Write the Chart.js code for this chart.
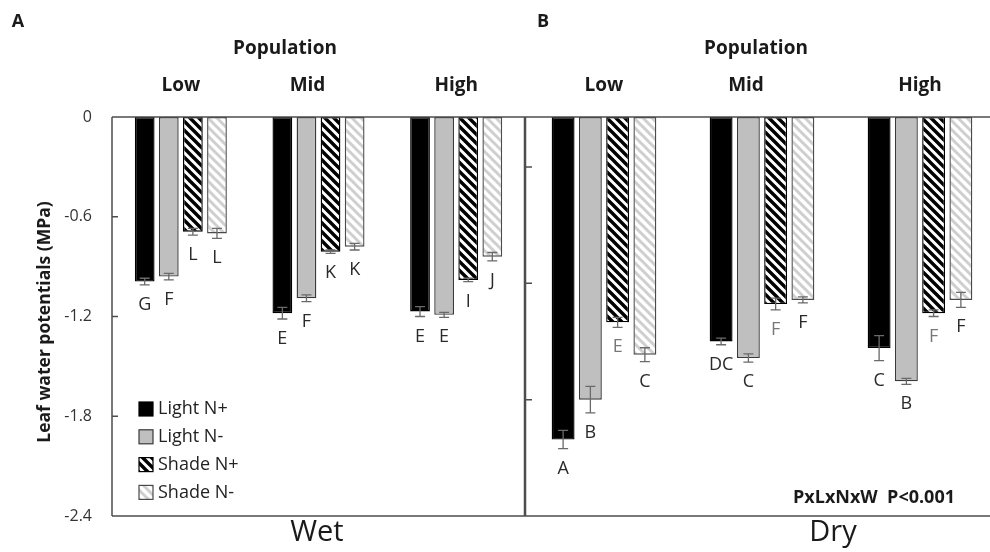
<!DOCTYPE html>
<html><head><meta charset="utf-8">
<script src="https://cdn.jsdelivr.net/npm/chart.js@4.4.0/dist/chart.umd.min.js"></script>
<style>
html,body{margin:0;padding:0;background:#fff;overflow:hidden;width:990px;height:552px;}
#wrap{position:relative;width:990px;height:552px;overflow:hidden;background:#fff;}
canvas{position:absolute;top:0;}
#cw{left:0}
#cd{left:525px}
</style></head><body>
<div id="wrap"><canvas id="cw" width="525" height="552"></canvas><canvas id="cd" width="474" height="552"></canvas></div>
<script>
// ---- data ----
const populations = ['Low', 'Mid', 'High'];
const seriesNames = ['Light N+', 'Light N-', 'Shade N+', 'Shade N-'];
const yTicksWet = [0, -0.6, -1.2, -1.8, -2.4];
const yTicksDry = [-0.3, -1.0, -1.7];

const wetLightNplus = [-0.99, -1.18, -1.17];
const wetLightNminus = [-0.96, -1.09, -1.19];
const wetShadeNplus = [-0.69, -0.81, -0.98];
const wetShadeNminus = [-0.70, -0.78, -0.84];
const wetErrLightNplus = [0.02, 0.035, 0.03];
const wetErrLightNminus = [0.02, 0.02, 0.015];
const wetErrShadeNplus = [0.02, 0.01, 0.01];
const wetErrShadeNminus = [0.03, 0.02, 0.025];
const wetLetters = [['G','E','E'], ['F','F','E'], ['L','K','I'], ['L','K','J']];

const dryLightNplus = [-1.94, -1.35, -1.39];
const dryLightNminus = [-1.70, -1.45, -1.59];
const dryShadeNplus = [-1.235, -1.125, -1.18];
const dryShadeNminus = [-1.43, -1.10, -1.10];
const dryErrLightNplus = [0.055, 0.02, 0.075];
const dryErrLightNminus = [0.08, 0.025, 0.018];
const dryErrShadeNplus = [0.03, 0.035, 0.02];
const dryErrShadeNminus = [0.042, 0.018, 0.045];
const dryLetters = [['A','DC','C'], ['B','C','B'], ['E','F','F'], ['C','F','F']];

// ---- styles ----
const FONT = "'Open Sans', 'DejaVu Sans', sans-serif";
function stripes(fg, bg, size, w) {
  const c = document.createElement('canvas');
  c.width = size; c.height = size;
  const x = c.getContext('2d');
  x.fillStyle = bg; x.fillRect(0, 0, size, size);
  x.strokeStyle = fg; x.lineWidth = w; x.lineCap = 'square';
  x.beginPath();
  x.moveTo(-1, -1); x.lineTo(size + 1, size + 1);
  x.moveTo(-1, size - 1); x.lineTo(1, size + 1);
  x.moveTo(size - 1, -1); x.lineTo(size + 1, 1);
  x.stroke();
  return x.createPattern(c, 'repeat');
}
const fills = ['#000000', '#bfbfbf', stripes('#000', '#fff', 9, 3.4), stripes('#cfcfcf', '#fff', 9, 3.0)];
const borders = ['#000000', '#3a3a3a', '#000000', '#4a4a4a'];

function makeDatasets(series) {
  return series.map((d, i) => ({
    label: seriesNames[i], data: d,
    backgroundColor: fills[i], borderColor: borders[i], borderWidth: 1.4,
    borderSkipped: false
  }));
}

function errLetterPlugin(errs, letters, letterColors) {
  return {
    id: 'errLetters',
    afterDatasetsDraw(chart) {
      const ctx = chart.ctx, y = chart.scales.y;
      ctx.save();
      chart.data.datasets.forEach((ds, di) => {
        const meta = chart.getDatasetMeta(di);
        meta.data.forEach((bar, i) => {
          const v = ds.data[i], e = errs[di][i];
          const yt = y.getPixelForValue(v + e), yb = y.getPixelForValue(v - e);
          ctx.strokeStyle = '#6a6a6a'; ctx.lineWidth = 1.3;
          ctx.beginPath();
          ctx.moveTo(bar.x, yt); ctx.lineTo(bar.x, yb);
          ctx.moveTo(bar.x - 5, yt); ctx.lineTo(bar.x + 5, yt);
          ctx.moveTo(bar.x - 5, yb); ctx.lineTo(bar.x + 5, yb);
          ctx.stroke();
          ctx.fillStyle = letterColors[di];
          ctx.font = '18px ' + FONT;
          ctx.textAlign = 'center'; ctx.textBaseline = 'middle';
          ctx.fillText(letters[di][i], bar.x, yb + 20);
        });
      });
      ctx.restore();
    }
  };
}

function framePlugin(isLeft) {
  return {
    id: 'frame',
    afterDraw(chart) {
      const ctx = chart.ctx, a = chart.chartArea, y = chart.scales.y, x = chart.scales.x;
      ctx.save();
      ctx.strokeStyle = '#4d4d4d'; ctx.lineWidth = 1.5;
      ctx.beginPath();
      if (isLeft) {
        ctx.moveTo(a.left, a.top); ctx.lineTo(a.right, a.top);
        ctx.moveTo(a.left, a.bottom); ctx.lineTo(a.right, a.bottom);
        ctx.moveTo(a.left, a.top); ctx.lineTo(a.left, a.bottom);
        ctx.moveTo(a.right - 0.5, a.top); ctx.lineTo(a.right - 0.5, a.bottom);
        yTicksWet.forEach(t => { const p = y.getPixelForValue(t); ctx.moveTo(a.left, p); ctx.lineTo(a.left + 6, p); });
      } else {
        ctx.moveTo(0, a.top); ctx.lineTo(a.right, a.top);
        ctx.moveTo(0, a.bottom); ctx.lineTo(a.right, a.bottom);
        ctx.moveTo(0.5, a.top); ctx.lineTo(0.5, a.bottom);
        yTicksDry.forEach(t => { const p = y.getPixelForValue(t); ctx.moveTo(0, p); ctx.lineTo(7, p); });
      }
      ctx.stroke();

      ctx.fillStyle = '#1a1a1a';
      ctx.textAlign = 'center'; ctx.textBaseline = 'middle';
      ctx.font = 'bold 19px ' + FONT;
      const midShift = isLeft ? -11 : -16;
      populations.forEach((p, i) => {
        ctx.fillText(p, x.getPixelForValue(i) + (i === 1 ? midShift : 0), 86);
      });
      ctx.fillText('Population', isLeft ? 285 : 231, 49);
      ctx.font = 'bold 18px ' + FONT;
      ctx.fillText(isLeft ? 'A' : 'B', 18, 22);
      ctx.font = '29px ' + FONT;
      ctx.fillText(isLeft ? 'Wet' : 'Dry', isLeft ? 317 : 308, 533);
      if (isLeft) {
        ctx.save();
        ctx.translate(45, 322); ctx.rotate(-Math.PI / 2);
        ctx.font = 'bold 17.5px ' + FONT;
        ctx.fillText('Leaf water potentials (MPa)', 0, 0);
        ctx.restore();
        ctx.font = '18px ' + FONT;
        ctx.textAlign = 'left';
        chart.data.datasets.forEach((ds, i) => {
          const cy = 409 + i * 27.8;
          ctx.fillStyle = ds.backgroundColor;
          ctx.fillRect(139, cy - 7, 14, 14);
          ctx.strokeStyle = ds.borderColor; ctx.lineWidth = 1.2;
          ctx.strokeRect(139, cy - 7, 14, 14);
          ctx.fillStyle = '#222';
          ctx.fillText(ds.label, 158, cy);
        });
      } else {
        ctx.font = 'bold 18px ' + FONT;
        ctx.textAlign = 'right';
        ctx.fillText('PxLxNxW  P<0.001', 430, 498);
      }
      ctx.restore();
    }
  };
}

Chart.defaults.font.family = FONT;
Chart.defaults.color = '#333';

function buildChart(id, series, errs, letters, letterColors, isLeft, catPct, barPct) {
  const yScale = {
    display: isLeft, min: -2.4, max: 0,
    grid: { display: false, drawTicks: false },
    border: { display: false },
    ticks: {
      stepSize: 0.6, padding: 20, color: '#333',
      font: { size: 16, family: FONT },
      callback: v => (Math.abs(v) < 1e-9 ? '0' : v.toFixed(1))
    }
  };
  if (isLeft) yScale.afterFit = s => { s.width = 112; };
  return new Chart(document.getElementById(id), {
    type: 'bar',
    data: { labels: populations, datasets: makeDatasets(series) },
    options: {
      responsive: false, animation: false, devicePixelRatio: 1,
      layout: { padding: { top: 117, bottom: 36, left: 0, right: 0 } },
      datasets: { bar: { categoryPercentage: catPct, barPercentage: barPct } },
      plugins: { legend: { display: false }, tooltip: { enabled: false } },
      scales: {
        x: { display: false, offset: true, grid: { display: false } },
        y: yScale
      }
    },
    plugins: [errLetterPlugin(errs, letters, letterColors), framePlugin(isLeft)]
  });
}

buildChart('cw',
  [wetLightNplus, wetLightNminus, wetShadeNplus, wetShadeNminus],
  [wetErrLightNplus, wetErrLightNminus, wetErrShadeNplus, wetErrShadeNminus],
  wetLetters, ['#2a2a2a', '#2a2a2a', '#2a2a2a', '#2a2a2a'], true, 0.70, 0.82);
buildChart('cd',
  [dryLightNplus, dryLightNminus, dryShadeNplus, dryShadeNminus],
  [dryErrLightNplus, dryErrLightNminus, dryErrShadeNplus, dryErrShadeNminus],
  dryLetters, ['#2a2a2a', '#2a2a2a', '#777777', '#2a2a2a'], false, 0.69, 0.84);
</script>
</body></html>
